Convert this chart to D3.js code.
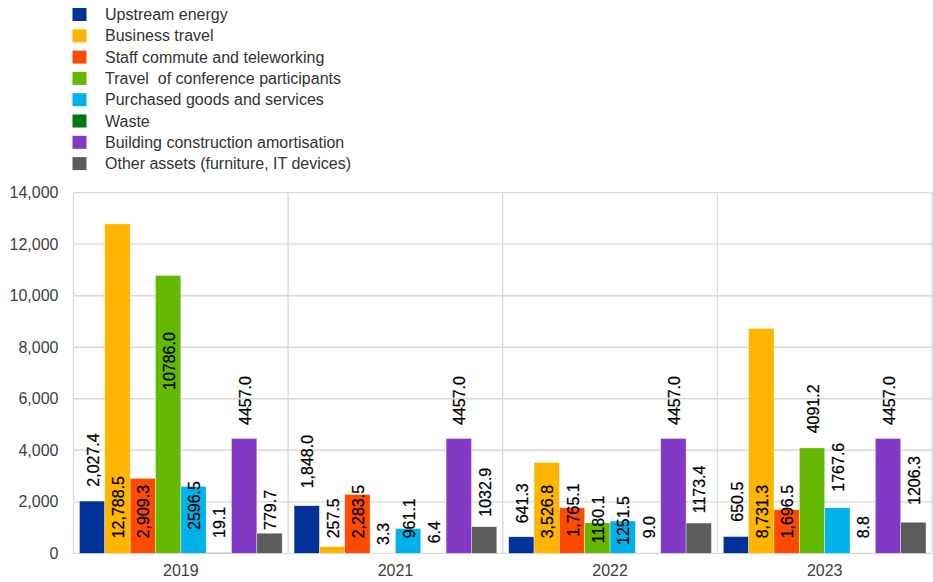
<!DOCTYPE html>
<html><head><meta charset="utf-8">
<script src="https://cdn.jsdelivr.net/npm/d3@7"></script>
<style>body{margin:0;background:#fff}svg{display:block;font-family:Arial,"Liberation Sans",sans-serif}text{white-space:pre}</style>
</head><body><svg id="c" width="933" height="582"></svg>
<script>
const years = ["2019","2021","2022","2023"];
const seriesNames = ["Upstream energy","Business travel","Staff commute and teleworking","Travel  of conference participants","Purchased goods and services","Waste","Building construction amortisation","Other assets (furniture, IT devices)"];
const seriesColors = ["#003299","#FFB400","#FF4B00","#65B800","#00B1EA","#007816","#8139C6","#5C5C5C"];
const upstream = [2027.4,1848.0,641.3,650.5];
const businessTravel = [12788.5,257.5,3526.8,8731.3];
const staffCommute = [2909.3,2283.5,1765.1,1696.5];
const conferenceTravel = [10786.0,3.3,1180.1,4091.2];
const purchasedGoods = [2596.5,961.1,1251.5,1767.6];
const waste = [19.1,6.4,9.0,8.8];
const buildingAmort = [4457.0,4457.0,4457.0,4457.0];
const otherAssets = [779.7,1032.9,1173.4,1206.3];
const valueLabels = [
  ["2,027.4","1,848.0","641.3","650.5"],
  ["12,788.5","257.5","3,526.8","8,731.3"],
  ["2,909.3","2,283.5","1,765.1","1,696.5"],
  ["10786.0","3.3","1180.1","4091.2"],
  ["2596.5","961.1","1251.5","1767.6"],
  ["19.1","6.4","9.0","8.8"],
  ["4457.0","4457.0","4457.0","4457.0"],
  ["779.7","1032.9","1173.4","1206.3"]
];
// value (in chart units) at which each rotated label starts
const labelAnchor = [
  [2585,2523,1165,1227],
  [582,582,582,582],
  [582,582,644,582],
  [6340,322,388,4658],
  [905,582,322,2391],
  [594,388,582,582],
  [4981,4981,4981,4981],
  [905,1421,1553,1875]
];
const yTicks = [0,2000,4000,6000,8000,10000,12000,14000];

const series = [upstream,businessTravel,staffCommute,conferenceTravel,purchasedGoods,waste,buildingAmort,otherAssets];
const svg = d3.select("#c");
const L=73.5, R=932, T=192.7, B=553.3;
const x0 = d3.scaleBand().domain(years).range([L,R]).paddingInner(0).paddingOuter(0);
const x1 = d3.scaleBand().domain(d3.range(8)).range([0,x0.bandwidth()]).paddingInner(0).paddingOuter(0.235);
const y = d3.scaleLinear().domain([0,14000]).range([B,T]);

// gridlines
svg.append("g").selectAll("line").data(yTicks).join("line")
  .attr("x1",L).attr("x2",R).attr("y1",d=>y(d)).attr("y2",d=>y(d))
  .attr("stroke","#d9d9d9").attr("stroke-width",1.3);
svg.append("g").selectAll("line").data(years.concat(["end"])).join("line")
  .attr("x1",(d,i)=>L+i*x0.bandwidth()).attr("x2",(d,i)=>L+i*x0.bandwidth())
  .attr("y1",T).attr("y2",B).attr("stroke","#d9d9d9").attr("stroke-width",1.3);

// y axis labels
const yAxis = d3.axisLeft(y).tickValues(yTicks).tickFormat(d3.format(",")).tickSize(0).tickPadding(15);
const ga = svg.append("g").attr("transform",`translate(${L},0)`).call(yAxis);
ga.select(".domain").remove();
ga.selectAll("text").attr("font-size",16).attr("fill","#404040").attr("font-family","Arial, 'Liberation Sans', sans-serif");

// x axis labels
const xAxis = d3.axisBottom(x0).tickSize(0).tickPadding(11);
const gx = svg.append("g").attr("transform",`translate(0,${B})`).call(xAxis);
gx.select(".domain").remove();
gx.selectAll("text").attr("font-size",16).attr("fill","#404040").attr("font-family","Arial, 'Liberation Sans', sans-serif");

// bars
const groups = svg.append("g").selectAll("g").data(years).join("g")
  .attr("transform",d=>`translate(${x0(d)},0)`);
groups.each(function(yr,yi){
  const g = d3.select(this);
  series.forEach((s,si)=>{
    g.append("rect").attr("x",x1(si)).attr("width",x1.bandwidth())
      .attr("y",y(s[yi])).attr("height",B-y(s[yi]))
      .attr("fill",seriesColors[si]).attr("stroke","#ffffff").attr("stroke-width",0.6).attr("stroke-opacity",0.6);
  });
  series.forEach((s,si)=>{
    const cx = x1(si)+x1.bandwidth()/2;
    const cy = y(labelAnchor[si][yi]);
    g.append("text").attr("transform",`translate(${cx+1},${cy}) rotate(-90)`)
      .attr("text-anchor","start").attr("dy","0.35em")
      .attr("font-size",16).attr("fill","#000").attr("stroke","#000").attr("stroke-width",0.25).text(valueLabels[si][yi]);
  });
});

// legend
const lg = svg.append("g");
seriesNames.forEach((n,i)=>{
  const cy = 14.5 + i*21.3;
  lg.append("rect").attr("x",72.5).attr("y",cy-6.5).attr("width",14).attr("height",13).attr("fill",seriesColors[i]);
  lg.append("text").attr("x",105).attr("y",cy).attr("dy","0.35em").attr("font-size",16).attr("fill","#333").text(n);
});
</script></body></html>
